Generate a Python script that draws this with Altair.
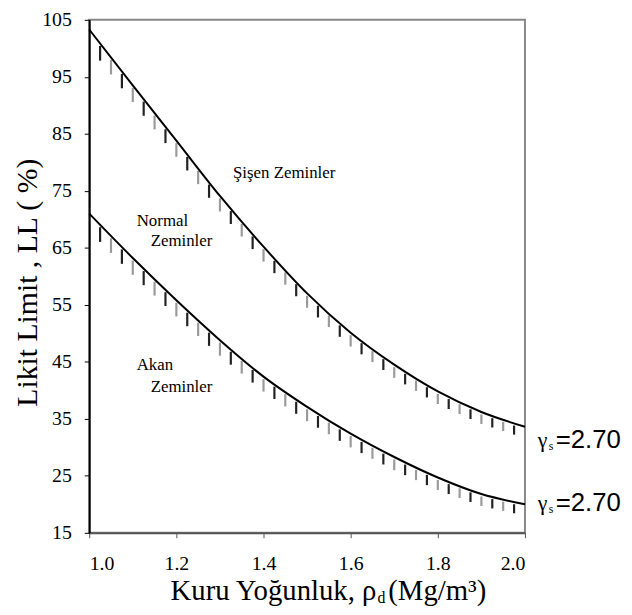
import altair as alt
import pandas as pd
import numpy as np

# ---- data ----
x_vals = [1.0, 1.1, 1.2, 1.3, 1.4, 1.5, 1.6, 1.7, 1.8, 1.9, 2.0]
upper_ll = [103.3, 93.5, 83.8, 74.1, 65.2, 57.0, 50.1, 44.5, 39.8, 36.2, 33.6]
lower_ll = [71.0, 63.2, 55.8, 48.8, 42.4, 37.1, 32.4, 28.3, 24.7, 21.8, 20.0]
x_ticks = [1.0, 1.2, 1.4, 1.6, 1.8, 2.0]
y_ticks = [15, 25, 35, 45, 55, 65, 75, 85, 95, 105]

zone_labels = ["Şişen Zeminler", "Normal", "Zeminler", "Akan", "Zeminler"]
zone_x = [1.33, 1.109, 1.141, 1.109, 1.141]
zone_y = [78.1, 69.7, 66.1, 44.4, 40.5]

curves = pd.DataFrame({
    "x": x_vals * 2,
    "ll": upper_ll + lower_ll,
    "series": ["upper"] * len(x_vals) + ["lower"] * len(x_vals),
})

# decorative hatching under each curve
PX_PER_UNIT = 518 / 90.0
hx = np.round(np.arange(1.025, 1.9751, 0.025), 4)
rows = []
for name, vals in (("upper", upper_ll), ("lower", lower_ll)):
    yy = np.interp(hx, x_vals, vals)
    for i, (xv, yv) in enumerate(zip(hx, yy)):
        length_px = 15 - 6 * (xv - 1.0)
        top = yv - 2.5 / PX_PER_UNIT
        bot = yv - (2.5 + length_px) / PX_PER_UNIT
        rows.append({"x": float(xv), "top": float(top), "bot": float(bot),
                     "shade": "d" if i % 2 == 0 else "l", "series": name})
hatch = pd.DataFrame(rows)

xs = alt.Scale(domain=[1.0, 2.0], nice=False, zero=False)
ys = alt.Scale(domain=[15, 105], nice=False, zero=False)

x_axis = alt.Axis(values=x_ticks, format=".1f", title=None, grid=False,
                  labelFont="Liberation Serif", labelFontSize=20, labelColor="black",
                  tickSize=5, tickColor="#555", domainColor="#555", domainWidth=2,
                  labelPadding=16)
y_axis = alt.Axis(values=y_ticks, title="Likit Limit , LL ( %)", grid=False,
                  labelFont="Liberation Serif", labelFontSize=20, labelColor="black",
                  tickSize=5, tickColor="black", domainColor="black", domainWidth=2,
                  labelPadding=13,
                  titleFont="Liberation Serif", titleFontSize=30, titleFontWeight="normal",
                  titleColor="black", titleAngle=270, titleX=-53, titleY=265,
                  titleBaseline="alphabetic", titleAlign="center")

lines = alt.Chart(curves).mark_line(color="black", strokeWidth=2, interpolate="monotone").encode(
    x=alt.X("x:Q", scale=xs, axis=x_axis),
    y=alt.Y("ll:Q", scale=ys, axis=y_axis),
    detail="series:N",
)

hatches = alt.Chart(hatch).mark_rule(strokeWidth=2.2).encode(
    x=alt.X("x:Q", scale=xs),
    y=alt.Y("top:Q", scale=ys),
    y2="bot:Q",
    color=alt.Color("shade:N", scale=alt.Scale(domain=["d", "l"], range=["#222222", "#9a9a9a"]), legend=None),
)

zones = alt.Chart(pd.DataFrame({"x": zone_x, "y": zone_y, "t": zone_labels})).mark_text(
    align="left", baseline="middle", font="Liberation Serif", fontSize=17, color="black"
).encode(x=alt.X("x:Q", scale=xs), y=alt.Y("y:Q", scale=ys), text="t:N")

end_df = pd.DataFrame({"x": [2.0], "yu": [upper_ll[-1]], "yl": [lower_ll[-1]]})

def gamma_label(col, dy):
    g = alt.Chart(end_df).mark_text(align="left", baseline="middle", font="Liberation Serif",
                                    fontSize=22, dx=13, dy=dy, color="black", text="γ").encode(
        x=alt.X("x:Q", scale=xs), y=alt.Y(f"{col}:Q", scale=ys))
    s = alt.Chart(end_df).mark_text(align="left", baseline="middle", font="Liberation Serif",
                                    fontSize=12, dx=24, dy=dy + 6, color="black", text="s").encode(
        x=alt.X("x:Q", scale=xs), y=alt.Y(f"{col}:Q", scale=ys))
    v = alt.Chart(end_df).mark_text(align="left", baseline="middle", font="Liberation Sans",
                                    fontSize=26, dx=31, dy=dy, color="black", text="=2.70").encode(
        x=alt.X("x:Q", scale=xs), y=alt.Y(f"{col}:Q", scale=ys))
    return g + s + v

one = pd.DataFrame({"a": [0]})
xt1 = alt.Chart(one).mark_text(align="right", baseline="alphabetic", font="Liberation Serif",
                               fontSize=29, color="black", text="Kuru Yoğunluk, ρ").encode(
    x=alt.value(290), y=alt.value(586))
xt2 = alt.Chart(one).mark_text(align="left", baseline="alphabetic", font="Liberation Serif",
                               fontSize=16, color="black", text="d").encode(
    x=alt.value(291), y=alt.value(589))
xt3 = alt.Chart(one).mark_text(align="left", baseline="alphabetic", font="Liberation Serif",
                               fontSize=29, color="black", text="(Mg/m³)").encode(
    x=alt.value(302), y=alt.value(586))

chart = alt.layer(
    hatches, lines, zones,
    gamma_label("yu", 13), gamma_label("yl", -1),
    xt1, xt2, xt3,
).properties(
    width=440, height=518,
    padding={"left": 82, "top": 9, "right": 100, "bottom": 72},
    autosize=alt.AutoSizeParams(type="none"),
).configure_view(stroke="#888888", strokeWidth=2)

chart.save("out.html", embed_options={"renderer": "svg", "actions": False})
